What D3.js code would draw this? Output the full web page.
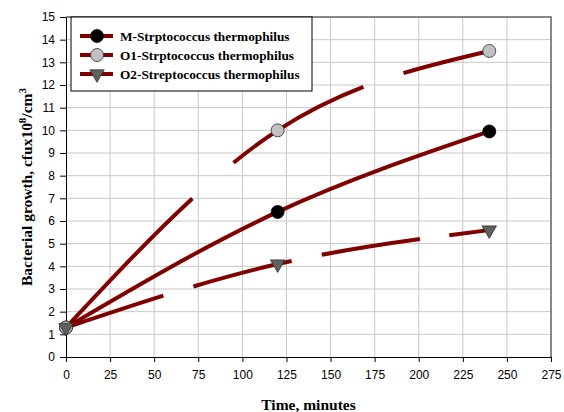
<!DOCTYPE html>
<meta charset="utf-8">
<style>
body { margin: 0; background: #fff; }
.tick text { font-family: Arial, "Liberation Sans", sans-serif; font-size: 12px; fill: #000; }
.axis path, .axis line { stroke: #000; }
.grid line { stroke: #c8c8c8; stroke-width: 1px; }
.curve { fill: none; stroke: #800000; stroke-width: 4px; }
.title { font-family: "Liberation Serif", "Times New Roman", serif; font-weight: bold; }
</style>
<body>
<script src="https://cdnjs.cloudflare.com/ajax/libs/d3/7.8.5/d3.min.js"></script>
<script>

// data
var times = [0, 120, 240];
var mValues = [1.3, 6.4, 9.95];
var o1Values = [1.3, 10.0, 13.5];
var o2Values = [1.3, 4.1, 5.6];
var seriesNames = ["M-Strptococcus thermophilus", "O1-Strptococcus thermophilus", "O2-Streptococcus thermophilus"];
var xTicks = [0, 25, 50, 75, 100, 125, 150, 175, 200, 225, 250, 275];
var yTicks = [0, 1, 2, 3, 4, 5, 6, 7, 8, 9, 10, 11, 12, 13, 14, 15];

// long-dash pattern: visible gaps of each line, in minutes (style only)
var gapsO1 = [[71.6, 94.9], [168.6, 191.3]];
var gapsO2 = [[55.2, 72.2], [127.9, 145], [200.7, 217.3]];

var margin = {top: 17, right: 13, bottom: 55, left: 66},
    width = 564 - margin.left - margin.right,
    height = 412 - margin.top - margin.bottom;

var x = d3.scaleLinear().domain([0, 275]).range([0, width]);
var y = d3.scaleLinear().domain([0, 15]).range([height, 0]);

var svg = d3.select("body").append("svg")
    .attr("width", 564)
    .attr("height", 412);

var g = svg.append("g")
    .attr("transform", "translate(" + margin.left + "," + margin.top + ")");

// grid
g.append("g").attr("class", "grid")
  .selectAll("line").data(xTicks.slice(1, -1)).enter().append("line")
    .attr("x1", function(d) { return x(d); }).attr("x2", function(d) { return x(d); })
    .attr("y1", 0).attr("y2", height);
g.append("g").attr("class", "grid")
  .selectAll("line").data(yTicks.slice(1, -1)).enter().append("line")
    .attr("y1", function(d) { return y(d); }).attr("y2", function(d) { return y(d); })
    .attr("x1", 0).attr("x2", width);

// top and right border
g.append("path")
    .attr("d", "M0,0H" + width + "V" + height)
    .attr("fill", "none").attr("stroke", "#606060").attr("stroke-width", 1.5);

// axes
g.append("g").attr("class", "axis")
    .attr("transform", "translate(0," + height + ")")
    .call(d3.axisBottom(x).tickValues(xTicks).tickSize(5).tickPadding(8).tickSizeOuter(0));
g.append("g").attr("class", "axis")
    .call(d3.axisLeft(y).tickValues(yTicks).tickSize(6).tickPadding(5).tickSizeOuter(0));

var line = d3.line()
    .x(function(d) { return x(d[0]); })
    .y(function(d) { return y(d[1]); })
    .curve(d3.curveNatural);

function lengthAtX(node, xv) {
  var total = node.getTotalLength(), lo = 0, hi = total;
  var px = x(xv);
  for (var i = 0; i < 40; i++) {
    var mid = (lo + hi) / 2;
    if (node.getPointAtLength(mid).x < px) lo = mid; else hi = mid;
  }
  return lo;
}

function drawCurve(values, gaps) {
  var pts = times.map(function(t, i) { return [t, values[i]]; });
  var p = g.append("path").attr("class", "curve").attr("d", line(pts));
  if (gaps) {
    var node = p.node(), pos = 0, dash = [];
    gaps.forEach(function(gp) {
      var a = lengthAtX(node, gp[0]), b = lengthAtX(node, gp[1]);
      dash.push(a - pos, b - a);
      pos = b;
    });
    dash.push(node.getTotalLength() - pos + 10, 0);
    p.attr("stroke-dasharray", dash.join(","));
  }
}

drawCurve(mValues, null);
drawCurve(o1Values, gapsO1);
drawCurve(o2Values, gapsO2);

var tri = d3.symbol().type(d3.symbolTriangle).size(90);

function drawMarker(sel, kind) {
  if (kind === 2) {
    sel.append("path").attr("d", tri)
      .attr("transform", "rotate(180)")
      .attr("fill", "#606060").attr("stroke", "#303030").attr("stroke-width", 0.8);
  } else {
    sel.append("circle").attr("r", 6.5)
      .attr("fill", kind === 0 ? "#000" : "#c0c0c0")
      .attr("stroke", kind === 0 ? "#000" : "#303030").attr("stroke-width", 0.8);
  }
}

[mValues, o1Values, o2Values].forEach(function(vals, k) {
  times.forEach(function(t, i) {
    var m = g.append("g").attr("transform", "translate(" + x(t) + "," + y(vals[i]) + ")");
    drawMarker(m, k);
  });
});

// legend
var lg = svg.append("g").attr("transform", "translate(71,17)");
lg.append("rect").attr("width", 241).attr("height", 74)
    .attr("fill", "#fff").attr("stroke", "#000").attr("stroke-width", 1);
seriesNames.forEach(function(name, k) {
  var row = lg.append("g").attr("transform", "translate(0," + (19 + k * 19) + ")");
  row.append("line").attr("x1", 9).attr("x2", 42)
    .attr("stroke", "#800000").attr("stroke-width", 4);
  var m = row.append("g").attr("transform", "translate(26,0)");
  drawMarker(m, k);
  row.append("text").attr("class", "title")
    .attr("x", 49).attr("y", 4.5)
    .style("font-size", "13.3px")
    .text(name);
});

// axis titles
svg.append("text").attr("class", "title")
    .attr("x", margin.left + width / 2).attr("y", 410)
    .attr("text-anchor", "middle")
    .style("font-size", "15.5px")
    .text("Time, minutes");

var yt = svg.append("text").attr("class", "title")
    .attr("transform", "translate(32," + (margin.top + height / 2) + ") rotate(-90)")
    .attr("text-anchor", "middle")
    .style("font-size", "15.5px");
yt.append("tspan").text("Bacterial growth, cfux10");
yt.append("tspan").attr("dy", -6).style("font-size", "11px").text("8");
yt.append("tspan").attr("dy", 6).text("/cm");
yt.append("tspan").attr("dy", -6).style("font-size", "11px").text("3");

</script>
</body>
